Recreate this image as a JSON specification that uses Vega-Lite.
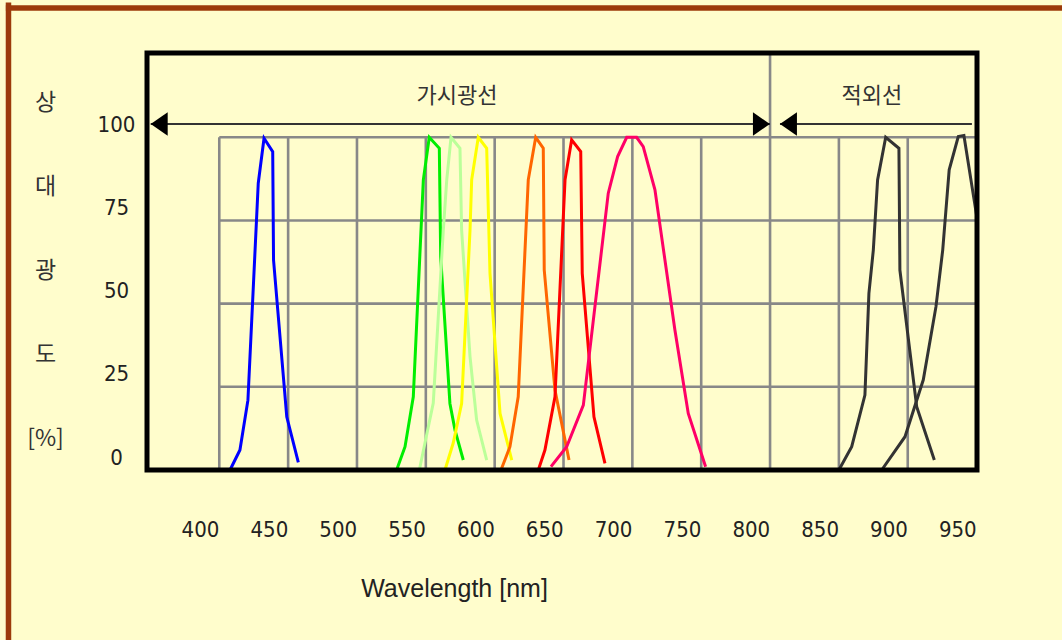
{
  "$schema": "https://vega.github.io/schema/vega-lite/v6.json",
  "width": 830,
  "height": 417,
  "autosize": {"type": "none"},
  "padding": {"left": 147, "top": 53, "right": 85, "bottom": 170},
  "background": "#FFFDCC",
  "config": {"view": {"stroke": null}},
  "datasets": {
    "curves": [
      {"s": "blue", "nm": 421.8, "pct": 0}, {"s": "blue", "nm": 429.0, "pct": 6.0}, {"s": "blue", "nm": 434.8, "pct": 21.0}, {"s": "blue", "nm": 442.3, "pct": 86.2}, {"s": "blue", "nm": 446.5, "pct": 99.7}, {"s": "blue", "nm": 452.8, "pct": 95.7}, {"s": "blue", "nm": 453.4, "pct": 63.1}, {"s": "blue", "nm": 463.0, "pct": 16.0}, {"s": "blue", "nm": 471.4, "pct": 2.3},
      {"s": "green", "nm": 542.8, "pct": 0}, {"s": "green", "nm": 548.9, "pct": 7.0}, {"s": "green", "nm": 554.9, "pct": 22.0}, {"s": "green", "nm": 562.2, "pct": 87.2}, {"s": "green", "nm": 566.5, "pct": 100}, {"s": "green", "nm": 573.8, "pct": 96.7}, {"s": "green", "nm": 574.8, "pct": 64.1}, {"s": "green", "nm": 581.5, "pct": 20.0}, {"s": "green", "nm": 585.2, "pct": 12.0}, {"s": "green", "nm": 591.2, "pct": 3.0},
      {"s": "lightgreen", "nm": 559.3, "pct": 0}, {"s": "lightgreen", "nm": 569.4, "pct": 20.1}, {"s": "lightgreen", "nm": 576.7, "pct": 72.1}, {"s": "lightgreen", "nm": 579.2, "pct": 87.2}, {"s": "lightgreen", "nm": 582.3, "pct": 100}, {"s": "lightgreen", "nm": 588.8, "pct": 96.7}, {"s": "lightgreen", "nm": 590.0, "pct": 72.1}, {"s": "lightgreen", "nm": 596.1, "pct": 34.1}, {"s": "lightgreen", "nm": 600.9, "pct": 15.0}, {"s": "lightgreen", "nm": 608.2, "pct": 3.0},
      {"s": "yellow", "nm": 577.9, "pct": 0}, {"s": "yellow", "nm": 583.9, "pct": 8.1}, {"s": "yellow", "nm": 590.0, "pct": 20.0}, {"s": "yellow", "nm": 596.1, "pct": 72.1}, {"s": "yellow", "nm": 597.3, "pct": 87.2}, {"s": "yellow", "nm": 602.1, "pct": 100}, {"s": "yellow", "nm": 608.2, "pct": 96.7}, {"s": "yellow", "nm": 610.6, "pct": 59.1}, {"s": "yellow", "nm": 617.9, "pct": 17.0}, {"s": "yellow", "nm": 626.4, "pct": 3.0},
      {"s": "orange", "nm": 618.6, "pct": 0}, {"s": "orange", "nm": 625.1, "pct": 7.0}, {"s": "orange", "nm": 631.1, "pct": 22.0}, {"s": "orange", "nm": 638.4, "pct": 87.2}, {"s": "orange", "nm": 643.8, "pct": 100}, {"s": "orange", "nm": 649.3, "pct": 96.7}, {"s": "orange", "nm": 650.0, "pct": 60.1}, {"s": "orange", "nm": 657.8, "pct": 24.0}, {"s": "orange", "nm": 668.0, "pct": 3.0},
      {"s": "red", "nm": 645.7, "pct": 0}, {"s": "red", "nm": 650.5, "pct": 6.0}, {"s": "red", "nm": 657.8, "pct": 22.0}, {"s": "red", "nm": 665.1, "pct": 87.2}, {"s": "red", "nm": 669.9, "pct": 99.2}, {"s": "red", "nm": 676.5, "pct": 95.7}, {"s": "red", "nm": 677.6, "pct": 59.1}, {"s": "red", "nm": 686.1, "pct": 16.0}, {"s": "red", "nm": 694.1, "pct": 2.0},
      {"s": "pink", "nm": 654.9, "pct": 1.0}, {"s": "pink", "nm": 666.3, "pct": 7.0}, {"s": "pink", "nm": 678.4, "pct": 19.5}, {"s": "pink", "nm": 696.5, "pct": 83.2}, {"s": "pink", "nm": 703.3, "pct": 94.2}, {"s": "pink", "nm": 709.9, "pct": 100}, {"s": "pink", "nm": 717.1, "pct": 100}, {"s": "pink", "nm": 721.9, "pct": 97.2}, {"s": "pink", "nm": 730.4, "pct": 84.2}, {"s": "pink", "nm": 744.9, "pct": 42.1}, {"s": "pink", "nm": 754.6, "pct": 17.0}, {"s": "pink", "nm": 767.2, "pct": 1.0},
      {"s": "ir1", "nm": 864.0, "pct": 0}, {"s": "ir1", "nm": 873.3, "pct": 7.0}, {"s": "ir1", "nm": 882.9, "pct": 22.5}, {"s": "ir1", "nm": 885.8, "pct": 53.1}, {"s": "ir1", "nm": 889.0, "pct": 66.1}, {"s": "ir1", "nm": 892.1, "pct": 87.2}, {"s": "ir1", "nm": 898.0, "pct": 100}, {"s": "ir1", "nm": 907.6, "pct": 96.7}, {"s": "ir1", "nm": 908.3, "pct": 60.1}, {"s": "ir1", "nm": 920.5, "pct": 19.0}, {"s": "ir1", "nm": 933.3, "pct": 3.0},
      {"s": "ir2", "nm": 895.1, "pct": 0}, {"s": "ir2", "nm": 912.0, "pct": 10.0}, {"s": "ir2", "nm": 925.3, "pct": 27.1}, {"s": "ir2", "nm": 934.5, "pct": 49.1}, {"s": "ir2", "nm": 939.4, "pct": 66.1}, {"s": "ir2", "nm": 944.1, "pct": 90.2}, {"s": "ir2", "nm": 950.7, "pct": 100.2}, {"s": "ir2", "nm": 954.8, "pct": 100.5}, {"s": "ir2", "nm": 964.3, "pct": 75.7}
    ],
    "gridv": [
      {"nm": 414, "lo": 0, "hi": 100}, {"nm": 464, "lo": 0, "hi": 100}, {"nm": 514, "lo": 0, "hi": 100}, {"nm": 564, "lo": 0, "hi": 100}, {"nm": 614, "lo": 0, "hi": 100}, {"nm": 664, "lo": 0, "hi": 100}, {"nm": 714, "lo": 0, "hi": 100}, {"nm": 764, "lo": 0, "hi": 100}, {"nm": 814, "lo": 0, "hi": 125.33}, {"nm": 864, "lo": 0, "hi": 100}, {"nm": 914, "lo": 0, "hi": 100}
    ],
    "gridh": [
      {"pct": 25, "from": 414, "to": 964.3}, {"pct": 50, "from": 414, "to": 964.3}, {"pct": 75, "from": 414, "to": 964.3}, {"pct": 100, "from": 414, "to": 964.3}
    ],
    "arrows": [
      {"from": 364.2, "to": 813.9, "pct": 104}, {"from": 821.2, "to": 960.6, "pct": 104}
    ],
    "heads": [
      {"nm": 364.2, "pct": 104, "dir": "L"}, {"nm": 813.9, "pct": 104, "dir": "R"}, {"nm": 821.2, "pct": 104, "dir": "L"}
    ],
    "labels": [
      {"nm": 586.6, "pct": 112.4, "text": "가시광선"}, {"nm": 888.0, "pct": 112.4, "text": "적외선"}
    ]
  },
  "layer": [
    {
      "data": {"values": [{"k": 1}]},
      "mark": {"type": "rule", "color": "#9C3A0A", "strokeWidth": 5.5, "clip": false},
      "encoding": {
        "x": {"datum": 259, "type": "quantitative", "scale": {"domain": [361.5, 964.3], "nice": false, "zero": false},
          "axis": {"values": [400, 450, 500, 550, 600, 650, 700, 750, 800, 850, 900, 950], "title": "Wavelength [nm]", "domain": false, "ticks": false, "tickSize": 0, "grid": false,
            "labelFont": "Liberation Sans Narrow, DejaVu Sans Condensed, sans-serif", "labelFontSize": 22, "labelColor": "#222", "labelPadding": 59, "labelBaseline": "middle", "labelFlush": false,
            "titleFont": "Liberation Sans, Arial, sans-serif", "titleFontSize": 25, "titleFontWeight": "normal", "titleColor": "#222", "titleX": 307, "titleY": 126, "titleAlign": "center", "titleBaseline": "alphabetic", "titleAnchor": null}},
        "x2": {"datum": 1030},
        "y": {"datum": 138.86, "type": "quantitative", "scale": {"domain": [0, 125.33], "nice": false, "zero": false},
          "axis": {"values": [0, 25, 50, 75, 100], "title": ["상", "대", "광", "도", "[%]"], "domain": false, "ticks": false, "tickSize": 0, "grid": false,
            "labelFont": "Liberation Sans Narrow, DejaVu Sans Condensed, sans-serif", "labelFontSize": 22, "labelColor": "#222", "labelPadding": 31, "labelAlign": "center", "labelBaseline": "middle", "labelOffset": -13, "labelFlush": false,
            "titleFont": "Noto Sans CJK KR", "titleFontSize": 23, "titleFontWeight": "normal", "titleColor": "#333", "titleAngle": 0, "titleAlign": "center", "titleBaseline": "alphabetic", "titleLineHeight": 84, "titleX": -102, "titleY": 56, "titleAnchor": null}}
      }
    },
    {
      "data": {"values": [{"k": 1}]},
      "mark": {"type": "rule", "color": "#9C3A0A", "strokeWidth": 5.5, "clip": false},
      "encoding": {
        "x": {"datum": 260.9, "type": "quantitative"},
        "y": {"datum": 140.5, "type": "quantitative"},
        "y2": {"datum": -52}
      }
    },
    {
      "data": {"name": "gridv"},
      "mark": {"type": "rule", "color": "#888888", "strokeWidth": 2.6},
      "encoding": {
        "x": {"field": "nm", "type": "quantitative"},
        "y": {"field": "lo", "type": "quantitative"},
        "y2": {"field": "hi"}
      }
    },
    {
      "data": {"name": "gridh"},
      "mark": {"type": "rule", "color": "#888888", "strokeWidth": 2.6},
      "encoding": {
        "y": {"field": "pct", "type": "quantitative"},
        "x": {"field": "from", "type": "quantitative"},
        "x2": {"field": "to"}
      }
    },
    {
      "data": {"name": "arrows"},
      "mark": {"type": "rule", "color": "#333333", "strokeWidth": 2},
      "encoding": {
        "y": {"field": "pct", "type": "quantitative"},
        "x": {"field": "from", "type": "quantitative"},
        "x2": {"field": "to"}
      }
    },
    {
      "data": {"name": "heads"},
      "mark": {"type": "point", "filled": true, "color": "#000000", "opacity": 1, "size": 548, "strokeWidth": 0},
      "encoding": {
        "x": {"field": "nm", "type": "quantitative"},
        "y": {"field": "pct", "type": "quantitative"},
        "shape": {"field": "dir", "type": "nominal", "scale": {"domain": ["L", "R"], "range": ["M0,0L1.45,-1L1.45,1Z", "M0,0L-1.45,-1L-1.45,1Z"]}, "legend": null}
      }
    },
    {
      "data": {"name": "labels"},
      "mark": {"type": "text", "font": "Noto Sans CJK KR", "fontSize": 22, "color": "#333333", "align": "center", "baseline": "middle"},
      "encoding": {
        "x": {"field": "nm", "type": "quantitative"},
        "y": {"field": "pct", "type": "quantitative"},
        "text": {"field": "text"}
      }
    },
    {
      "data": {"name": "curves"},
      "mark": {"type": "line", "strokeWidth": 3, "strokeJoin": "miter"},
      "encoding": {
        "x": {"field": "nm", "type": "quantitative"},
        "y": {"field": "pct", "type": "quantitative"},
        "color": {"field": "s", "type": "nominal", "legend": null,
          "scale": {"domain": ["blue", "green", "lightgreen", "yellow", "orange", "red", "pink", "ir1", "ir2"],
                    "range": ["#0000FF", "#00EE00", "#BBFF99", "#FFFF00", "#FF6600", "#FF0000", "#FF0066", "#333333", "#333333"]}}
      }
    },
    {
      "data": {"values": [{"k": 1}]},
      "mark": {"type": "rect", "filled": false, "stroke": "#000000", "strokeWidth": 5, "clip": false},
      "encoding": {
        "x": {"datum": 361.5, "type": "quantitative"},
        "x2": {"datum": 964.3},
        "y": {"datum": 0, "type": "quantitative"},
        "y2": {"datum": 125.33}
      }
    }
  ]
}
